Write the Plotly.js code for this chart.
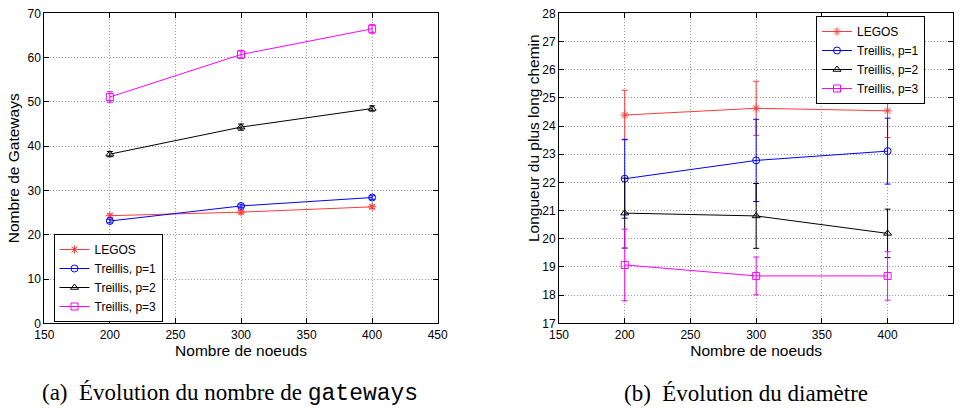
<!DOCTYPE html>
<html>
<head>
<meta charset="utf-8">
<script src="https://cdn.plot.ly/plotly-3.0.1.min.js"></script>
<style>html,body{margin:0;padding:0;background:#fff;}#chart{width:962px;height:408px;}</style>
</head>
<body>
<div id="chart"></div>
<script>
// Data
const nodes = [200, 300, 400];
const seriesNames = ["LEGOS", "Treillis, p=1", "Treillis, p=2", "Treillis, p=3"];

// (a) Number of gateways
const gwLegos = [24.3, 25.1, 26.3];
const gwLegosErr = [0.4, 0.4, 0.4];
const gwP1 = [23.1, 26.5, 28.4];
const gwP1Err = [0.4, 0.4, 0.4];
const gwP2 = [38.2, 44.3, 48.5];
const gwP2Err = [0.6, 0.7, 0.6];
const gwP3 = [51.1, 60.7, 66.5];
const gwP3Err = [1.2, 0.9, 1.0];

// (b) Diameter (longest path length)
const dLegos = [24.39, 24.63, 24.54];
const dLegosErr = [0.88, 0.96, 0.95];
const dP1 = [22.13, 22.78, 23.11];
const dP1Err = [1.40, 1.46, 1.17];
const dP2 = [20.91, 20.81, 20.19];
const dP2Err = [1.24, 1.15, 0.86];
const dP3 = [19.07, 18.68, 18.68];
const dP3Err = [1.27, 0.67, 0.86];

const xTicks = [150, 200, 250, 300, 350, 400, 450];
const yTicksA = [0, 10, 20, 30, 40, 50, 60, 70];
const yTicksB = [17, 18, 19, 20, 21, 22, 23, 24, 25, 26, 27, 28];

const colors = ["#ff3a3a", "#0000ff", "#000000", "#ff00ff"];
const symbols = ["asterisk-open", "circle-open", "triangle-up-open", "square-open"];

function mk(y, err, i, xa, ya, leg) {
  return {
    x: nodes, y: y, type: "scatter", mode: "lines+markers",
    name: seriesNames[i], xaxis: xa, yaxis: ya, legend: leg,
    line: {color: colors[i], width: 1},
    marker: {symbol: symbols[i], size: 7, color: colors[i], line: {color: colors[i], width: 1}},
    error_y: {type: "data", array: err, visible: true, color: colors[i], thickness: 1, width: 3}
  };
}

const traces = [
  mk(gwLegos, gwLegosErr, 0, "x", "y", "legend"),
  mk(gwP1, gwP1Err, 1, "x", "y", "legend"),
  mk(gwP2, gwP2Err, 2, "x", "y", "legend"),
  mk(gwP3, gwP3Err, 3, "x", "y", "legend"),
  mk(dLegos, dLegosErr, 0, "x2", "y2", "legend2"),
  mk(dP1, dP1Err, 1, "x2", "y2", "legend2"),
  mk(dP2, dP2Err, 2, "x2", "y2", "legend2"),
  mk(dP3, dP3Err, 3, "x2", "y2", "legend2")
];

const fam = "Liberation Sans, Arial, sans-serif";
const font = {family: fam, size: 12, color: "#000"};
const titleFont = {family: fam, size: 15.5, color: "#000"};
function xax(domain, anchor) {
  return {
    domain: domain, anchor: anchor, range: [150, 450], tickvals: xTicks,
    showline: true, linecolor: "#000", linewidth: 1, mirror: "ticks",
    ticks: "inside", ticklen: 5, tickcolor: "#000",
    showgrid: true, gridcolor: "#999999", griddash: "1px,2px", gridwidth: 1,
    zeroline: false, tickfont: font, fixedrange: true,
    title: {text: "Nombre de noeuds", font: titleFont, standoff: 0}
  };
}
function yax(domain, anchor, range, ticks, title) {
  return {
    domain: domain, anchor: anchor, range: range, tickvals: ticks,
    showline: true, linecolor: "#000", linewidth: 1, mirror: "ticks",
    ticks: "inside", ticklen: 5, tickcolor: "#000",
    showgrid: true, gridcolor: "#999999", griddash: "1px,2px", gridwidth: 1,
    zeroline: false, tickfont: font, fixedrange: true,
    title: {text: title, font: titleFont, standoff: 4}
  };
}

const yDom = [(408 - 323.3) / 408, (408 - 13.3) / 408];
const layout = {
  width: 962, height: 408,
  margin: {l: 0, r: 0, t: 0, b: 0},
  paper_bgcolor: "#fff", plot_bgcolor: "#fff",
  font: font,
  xaxis: xax([44.3 / 962, 437.7 / 962], "y"),
  yaxis: yax(yDom, "x", [0, 70], yTicksA, "Nombre de Gateways"),
  xaxis2: xax([559 / 962, 953.3 / 962], "y2"),
  yaxis2: yax(yDom, "x2", [17, 28], yTicksB, ""),
  legend: {
    x: 53.5 / 962, y: (408 - 278) / 408, xanchor: "left", yanchor: "middle",
    bgcolor: "#fff", bordercolor: "#000", borderwidth: 1,
    font: {family: fam, size: 12, color: "#000"}, tracegroupgap: 0, itemwidth: 30
  },
  legend2: {
    x: 816 / 962, y: (408 - 16) / 408, xanchor: "left", yanchor: "top",
    bgcolor: "#fff", bordercolor: "#000", borderwidth: 1,
    font: {family: fam, size: 12, color: "#000"}, tracegroupgap: 0, itemwidth: 30
  },
  annotations: [
    {xref: "paper", yref: "paper", x: 533 / 962, y: (408 - 138) / 408, xanchor: "center", yanchor: "middle",
     showarrow: false, textangle: -90, text: "Longueur du plus long chemin", font: titleFont},
    {xref: "paper", yref: "paper", x: 40 / 962, y: (408 - 393) / 408, xanchor: "left", yanchor: "middle",
     showarrow: false,
     text: '(a)  Évolution du nombre de <span style="font-family:\'Liberation Mono\', monospace">gateways</span>',
     font: {family: "Liberation Serif, Times New Roman, serif", size: 23, color: "#000"}},
    {xref: "paper", yref: "paper", x: 622 / 962, y: (408 - 393) / 408, xanchor: "left", yanchor: "middle",
     showarrow: false,
     text: "(b)  Évolution du diamètre",
     font: {family: "Liberation Serif, Times New Roman, serif", size: 23, color: "#000"}}
  ],
  showlegend: true
};

Plotly.newPlot("chart", traces, layout, {staticPlot: true, displayModeBar: false});
</script>
</body>
</html>
